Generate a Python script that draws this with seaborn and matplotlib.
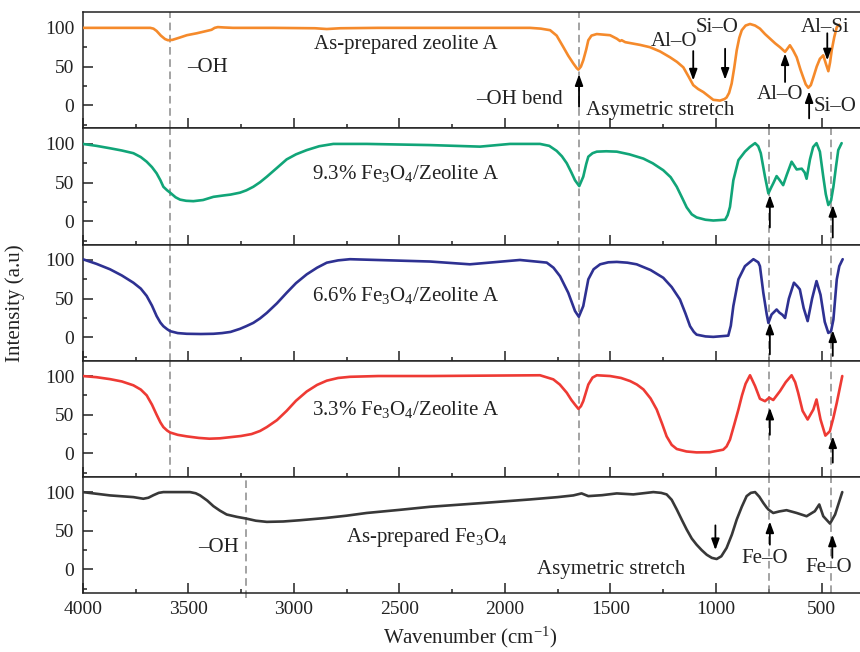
import numpy as np
import pandas as pd
import matplotlib
matplotlib.use("Agg")
import matplotlib.pyplot as plt
import seaborn as sns
from matplotlib.ticker import MultipleLocator, FixedLocator

# ---------------- data ----------------
wn_zeo = [4000, 3800, 3680, 3665, 3650, 3630, 3610, 3596, 3575, 3540, 3507, 3460, 3413, 3390, 3375,
          3360, 3330, 3288, 3100, 2900, 2844, 2780, 2600, 2400, 2200, 2000, 1881, 1830, 1786, 1755,
          1723, 1700, 1676, 1660, 1652, 1640, 1629, 1615, 1605, 1590, 1565, 1502, 1470, 1455, 1447,
          1430, 1400, 1360, 1313, 1265, 1218, 1185, 1155, 1130, 1108, 1085, 1060, 1013, 981, 960,
          950, 938, 926, 914, 902, 890, 878, 860, 839, 815, 792, 768, 744, 720, 697, 673, 662, 650,
          635, 618, 600, 587, 575, 563, 551, 539, 523, 508, 492, 480, 468, 460, 452, 440, 428, 416]
int_zeo = [100, 100, 100, 99, 96, 90, 85.5, 84, 84.5, 87.5, 90.5, 93, 96, 97.5, 100,
           101, 100.5, 100, 100, 99.5, 98.5, 99.5, 100, 100, 100, 100, 100, 99, 97, 90,
           75, 64, 54, 48, 46, 50, 58, 72, 84, 90, 92, 90.5, 86, 83, 84,
           81.5, 80, 78, 75, 69.5, 62, 56, 49, 37, 26, 21, 17, 7, 6, 8,
           10, 16, 28, 48, 71, 87, 97, 103, 105, 103, 99, 92, 86, 80, 75, 69, 73, 77.5,
           71, 62, 46, 36, 27, 22.6, 26, 36, 50, 60, 64.5, 54, 44, 55, 71, 88, 101, 104]

wn_93 = [4000, 3935, 3871, 3815, 3760, 3725, 3697, 3672, 3650, 3632, 3618, 3600, 3586, 3560, 3539,
         3510, 3476, 3430, 3381, 3330, 3300, 3255, 3225, 3192, 3160, 3128, 3080, 3034, 2990, 2939,
         2880, 2813, 2655, 2355, 2118, 1976, 1834, 1790, 1755, 1730, 1707, 1685, 1668, 1648, 1629,
         1615, 1605, 1585, 1565, 1520, 1470, 1410, 1344, 1300, 1250, 1215, 1186, 1160, 1139, 1115,
         1092, 1050, 1013, 957, 945, 934, 918, 894, 863, 840, 815, 800, 788, 768, 752, 740, 729,
         713, 698, 682, 665, 642, 630, 618, 594, 580, 571, 555, 540, 524, 508, 492, 480, 468, 455,
         444, 432, 421, 405]
int_93 = [100, 97.5, 94.4, 91.5, 88, 83, 77, 70, 62, 53, 44.6, 40, 37, 31, 28,
          26.5, 26, 27.5, 31.6, 33.5, 34.5, 37, 40, 44.6, 50.5, 57.6, 69, 80, 86.5, 92,
          97, 100, 100, 98.5, 96.5, 100, 100, 97.5, 91, 84, 75, 63, 53, 45.5, 57.6,
          74, 83.5, 88, 90, 90.5, 90, 86.5, 81, 75, 66, 57, 44.6, 30, 18, 9,
          5, 2, 1, 2, 8, 18.6, 53, 79, 90, 96, 101, 97, 88, 57.6, 36, 43, 49,
          58.4, 53, 46.7, 60, 77, 72, 67, 68, 63, 55, 80, 96, 101, 90, 57.6, 35, 21, 27,
          44.6, 70, 92, 101]

wn_66 = [4000, 3935, 3871, 3815, 3760, 3725, 3697, 3672, 3650, 3632, 3618, 3600, 3586, 3550, 3507,
         3440, 3381, 3340, 3300, 3255, 3225, 3192, 3160, 3128, 3080, 3034, 2990, 2939, 2890, 2844,
         2790, 2734, 2355, 2166, 1929, 1802, 1770, 1739, 1700, 1668, 1650, 1629, 1605, 1580, 1549,
         1510, 1470, 1420, 1376, 1310, 1250, 1210, 1171, 1145, 1123, 1105, 1092, 1050, 1013, 942,
         930, 918, 894, 863, 823, 800, 792, 776, 760, 752, 737, 713, 700, 685, 673, 655, 631, 615,
         603, 585, 566, 545, 524, 505, 485, 468, 455, 444, 428, 416, 400]
int_66 = [101, 95, 88, 80, 70.6, 63, 53.5, 41, 27.5, 19, 14.4, 10.5, 8, 5.5, 4.6,
          4.3, 4.6, 5.5, 7, 11, 14.5, 18.7, 24.5, 31.6, 44, 57.6, 70, 81.4, 90, 96.5,
          99.5, 101, 98, 94.4, 100, 96.6, 90, 79, 57.6, 34, 26.6, 40.4, 75, 88, 94.4,
          97, 97.5, 96.5, 94.4, 87, 77, 65, 49, 31, 14.4, 7, 3.5, 1.2, 0.6, 2.2,
          15, 40.4, 75, 92, 101, 97, 92, 57.6, 30, 18.7, 29.5, 36, 32, 29, 25, 50, 70.6, 66,
          62, 38, 21, 50, 72.7, 55, 20, 5.7, 8, 23, 75, 92, 101]

wn_33 = [4000, 3935, 3871, 3815, 3760, 3725, 3697, 3672, 3650, 3632, 3618, 3600, 3586, 3550, 3507,
         3450, 3400, 3350, 3300, 3250, 3200, 3160, 3128, 3080, 3034, 2990, 2939, 2890, 2844, 2790,
         2734, 2600, 2355, 1834, 1771, 1740, 1707, 1685, 1668, 1652, 1640, 1629, 1605, 1585, 1565,
         1502, 1450, 1407, 1375, 1344, 1310, 1281, 1255, 1234, 1210, 1186, 1140, 1092, 1030, 966,
         950, 934, 914, 894, 877, 860, 839, 815, 792, 768, 748, 729, 697, 670, 642, 625, 611, 590,
         566, 539, 524, 505, 482, 461, 445, 428, 402]
int_33 = [100, 98.5, 96, 93, 88, 82.5, 75, 63, 50, 40, 34, 29.5, 27, 24, 22,
          20, 19, 19.5, 21, 22.5, 25, 29, 34, 43, 55, 68, 80, 88.5, 94, 97.5,
          99, 100, 100, 101, 95.7, 89, 78.4, 69, 63, 57.6, 61, 67.5, 89, 98, 101,
          100, 97.5, 93.5, 89, 82.7, 71, 56.7, 38, 22, 11, 5.7, 2.5, 1.3, 1.5, 4.8,
          9, 17.8, 37, 56.7, 75, 90, 101, 87, 70.6, 67.5, 72, 69, 80.5, 92, 101, 92, 78.4, 55,
          43.8, 56.7, 69.7, 43.8, 23, 28.6, 45, 65.4, 100]

wn_fe = [4000, 3871, 3760, 3713, 3689, 3665, 3640, 3618, 3560, 3492, 3465, 3444, 3410, 3381, 3350,
         3318, 3270, 3226, 3180, 3128, 3050, 2971, 2850, 2750, 2655, 2500, 2355, 2100, 1881, 1750,
         1676, 1637, 1605, 1540, 1470, 1392, 1297, 1260, 1234, 1210, 1186, 1160, 1139, 1115, 1092,
         1068, 1044, 1020, 997, 975, 950, 925, 902, 878, 855, 835, 815, 795, 776, 760, 750, 729,
         700, 666, 618, 571, 532, 511, 492, 460, 436, 402]
int_fe = [100, 95.7, 93.5, 91.4, 92.7, 96, 99, 100, 100, 100, 98.5, 95.7, 89, 81.8, 76,
          71, 68, 65.8, 63, 61.5, 62, 63.6, 66.5, 69.5, 73, 77, 81, 86, 90.5, 93.5,
          95.7, 98.3, 94.8, 96, 98.3, 97, 100, 99, 97, 90, 77.5, 63, 51.6, 40, 32,
          25, 19, 15, 13.5, 17, 27.8, 45, 64.5, 81, 94.8, 99, 100, 94, 86, 80, 77, 73,
          75, 76.6, 73, 68.8, 75.3, 84, 68.8, 59.3, 71, 100]

series = [(wn_zeo, int_zeo), (wn_93, int_93), (wn_66, int_66), (wn_33, int_33), (wn_fe, int_fe)]
colors = ["#F58A2B", "#11A578", "#2E3192", "#EE3A34", "#383838"]
sample_labels = ["As-prepared zeolite A", "9.3% Fe$_3$O$_4$/Zeolite A", "6.6% Fe$_3$O$_4$/Zeolite A",
                 "3.3% Fe$_3$O$_4$/Zeolite A", "As-prepared Fe$_3$O$_4$"]
label_pos = [(2469, 79), (2469, 62), (2469, 54), (2469, 57), (2370, 41)]

# ---------------- style ----------------
sns.set_theme(style="ticks")
plt.rcParams["font.family"] = ["Liberation Serif", "DejaVu Serif"]
plt.rcParams["mathtext.fontset"] = "custom"
plt.rcParams["mathtext.rm"] = "Liberation Serif"
plt.rcParams["mathtext.it"] = "Liberation Serif:italic"
plt.rcParams["mathtext.default"] = "regular"
FS = 14
AFS = 15
TXT = "#222222"

fig, axes = plt.subplots(5, 1, figsize=(8.6, 6.52), dpi=100, sharex=True)
fig.subplots_adjust(left=0.0962, right=1.0, top=0.981, bottom=0.091, hspace=0)

dash = dict(color="#8a8a8a", lw=1.1, ls=(0, (5, 3)), zorder=1)

for i, ax in enumerate(axes):
    wn, val = series[i]
    df = pd.DataFrame({"wn": wn, "val": val})
    sns.lineplot(data=df, x="wn", y="val", ax=ax, color=colors[i], lw=1.9, zorder=3,
                 solid_joinstyle="round", solid_capstyle="round")
    ax.set_xlabel("")
    ax.set_ylabel("")
    ax.set_xlim(4000, 318)
    ax.set_ylim(-30, 120)
    ax.yaxis.set_major_locator(FixedLocator([0, 50, 100]))
    ax.yaxis.set_minor_locator(FixedLocator([-25, 25, 75]))
    ax.xaxis.set_major_locator(MultipleLocator(500))
    ax.xaxis.set_minor_locator(MultipleLocator(250))
    ax.tick_params(which="both", direction="in", top=False, right=False, color="#222222",
                   width=1.1, labelsize=FS, labelcolor=TXT)
    ax.tick_params(which="major", length=7, pad=6)
    ax.tick_params(which="minor", length=3)
    ax.spines["right"].set_visible(False)
    for s in ["top", "bottom", "left"]:
        ax.spines[s].set_linewidth(1.1)
        ax.spines[s].set_color("#222222")
    lx, ly = label_pos[i]
    ax.text(lx, ly, sample_labels[i], ha="center", va="center", fontsize=AFS, color=TXT)

# dashed guide lines
for ax in axes[:4]:
    ax.axvline(3586, **dash)
    ax.axvline(1649, **dash)
for ax in axes[1:]:
    ax.axvline(749, **dash)
    ax.axvline(455, **dash)
axes[4].axvline(3226, ymin=-0.05, ymax=1.0, clip_on=False, **dash)


def arrow(ax, x, y0, y1):
    ax.annotate("", xy=(x, y1), xytext=(x, y0),
                arrowprops=dict(arrowstyle="-|>,head_length=0.55,head_width=0.2", color="black",
                                lw=1.3, shrinkA=0, shrinkB=0), zorder=5)


def label(ax, x, y, s, ha="center"):
    ax.text(x, y, s, ha=ha, va="center", fontsize=AFS, color=TXT, zorder=6)

# panel 1 annotations
a = axes[0]
label(a, 3410, 49, "–OH")
label(a, 1724, 7, "–OH bend", ha="right")
label(a, 1265, -7, "Asymetric stretch")
label(a, 1201, 82, "Al–O")
label(a, 995, 101, "Si–O")
label(a, 697, 14, "Al–O")
label(a, 436, -2, "Si–O")
label(a, 481, 101, "Al–Si")
arrow(a, 1649, -2, 40)
arrow(a, 1108, 70, 32)
arrow(a, 957, 73, 33)
arrow(a, 673, 30, 67)
arrow(a, 559, -17, 18)
arrow(a, 473, 93, 58)

# panels 2-4 arrows
arrow(axes[1], 745, -8, 34)
arrow(axes[1], 447, -21, 21)
arrow(axes[2], 745, -22, 19)
arrow(axes[2], 447, -24, 9)
arrow(axes[3], 745, 24, 59)
arrow(axes[3], 447, -12, 22)

# panel 5 annotations
b = axes[4]
label(b, 3357, 28, "–OH")
label(b, 1495, 0, "Asymetric stretch")
label(b, 768, 14, "Fe–O")
label(b, 465, 2.5, "Fe–O")
arrow(b, 1003, 57, 25)
arrow(b, 745, 32, 62)
arrow(b, 449, 15, 45)

fig.text(0.0175, 0.535, "Intensity (a.u)", rotation=90, ha="center", va="center", fontsize=AFS, color=TXT)
fig.text(0.547, 0.023, "Wavenumber (cm$^{-1}$)", ha="center", va="center", fontsize=AFS, color=TXT)

fig.savefig("out.png", dpi=100)
